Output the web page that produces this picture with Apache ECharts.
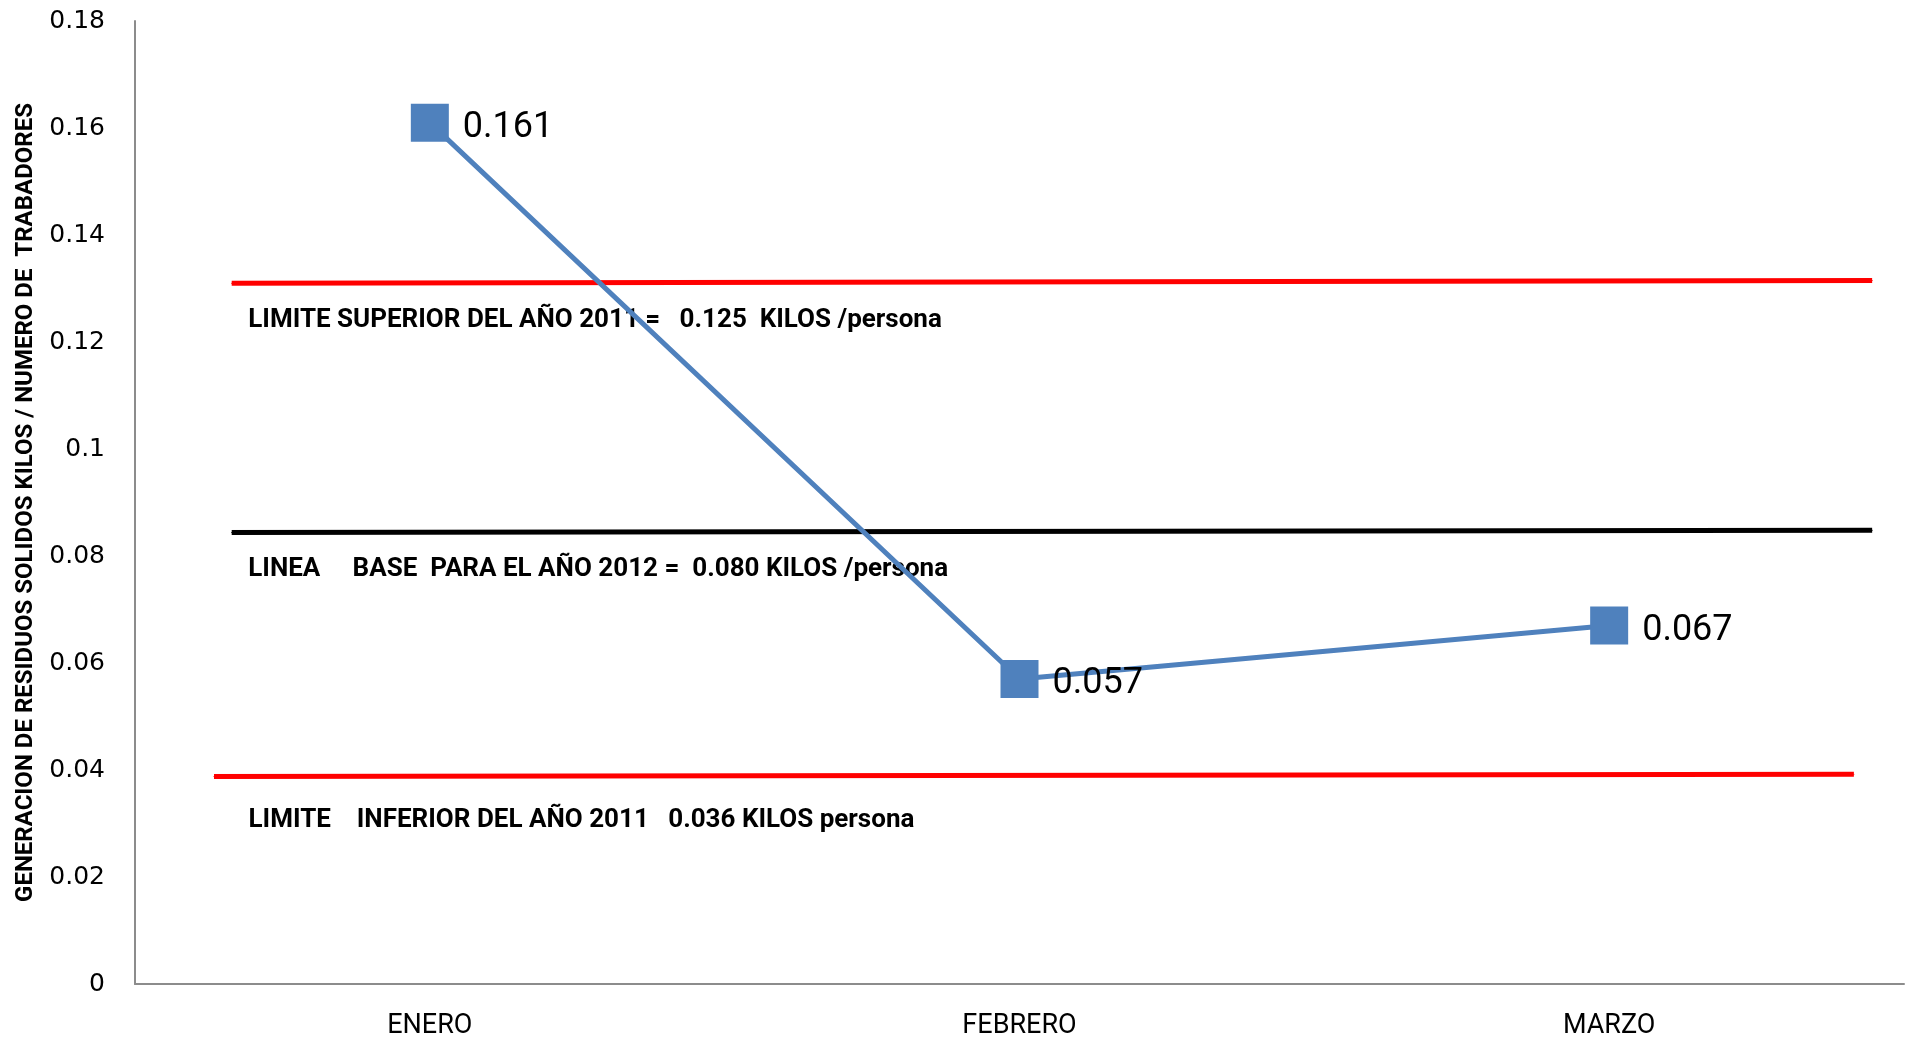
<!DOCTYPE html>
<html>
<head>
<meta charset="utf-8">
<style>
    html, body { margin: 0; padding: 0; background: #fff; }
    #chart { width: 1906px; height: 1040px; }
</style>
<script src="https://cdn.jsdelivr.net/npm/echarts@6/dist/echarts.min.js"></script>
</head>
<body>
<div id="chart"></div>
<script>
    // data
    const categories = ['ENERO', 'FEBRERO', 'MARZO'];
    const values = [0.161, 0.057, 0.067];
    const yMin = 0, yMax = 0.18, yStep = 0.02;

    // reference lines (drawn by hand in the original, so slightly off their stated values)
    const upperX = [-0.336, 2.446], upperY = [0.1310, 0.1315];
    const baseX = [-0.336, 2.446], baseY = [0.0844, 0.0848];
    const lowerX = [-0.366, 2.415], lowerY = [0.0388, 0.0392];
    const upperText = 'LIMITE SUPERIOR DEL AÑO 2011 =   0.125  KILOS /persona';
    const baseText = 'LINEA     BASE  PARA EL AÑO 2012 =  0.080 KILOS /persona';
    const lowerText = 'LIMITE    INFERIOR DEL AÑO 2011   0.036 KILOS persona';

    const narrow = '"Liberation Sans Narrow", "Arial Narrow", "Roboto", sans-serif';

    function refLine(xs, ys, color, text, offset) {
        return {
            type: 'line',
            xAxisIndex: 1,
            silent: true,
            animation: false,
            symbol: 'circle',
            symbolSize: 1,
            itemStyle: {color: color},
            lineStyle: {color: color, width: 5},
            data: [
                {
                    value: [xs[0], ys[0]],
                    label: {
                        show: true,
                        position: offset,
                        align: 'left',
                        verticalAlign: 'middle',
                        formatter: text,
                        fontFamily: narrow,
                        fontWeight: 'bold',
                        fontSize: 26,
                        color: '#000'
                    }
                },
                [xs[1], ys[1]]
            ]
        };
    }

    const chart = echarts.init(document.getElementById('chart'));
    const option = {
        backgroundColor: '#fff',
        animation: false,
        grid: {left: 135, right: 2, top: 21, bottom: 55},
        xAxis: [
            {
                type: 'category',
                data: categories,
                axisTick: {show: false},
                axisLine: {lineStyle: {color: '#8c8c8c', width: 2}},
                axisLabel: {
                    color: '#000',
                    fontFamily: narrow,
                    fontSize: 27,
                    margin: 29
                }
            },
            {type: 'value', min: -0.5, max: 2.5, show: false}
        ],
        yAxis: {
            type: 'value',
            min: yMin,
            max: yMax,
            interval: yStep,
            splitLine: {show: false},
            axisTick: {show: false},
            axisLine: {show: true, onZero: false, lineStyle: {color: '#8c8c8c', width: 2}},
            axisLabel: {
                color: '#000',
                fontFamily: '"DejaVu Sans", sans-serif',
                fontSize: 25,
                margin: 30
            },
            name: 'GENERACION DE RESIDUOS SOLIDOS KILOS / NUMERO DE  TRABADORES',
            nameLocation: 'middle',
            nameRotate: 90,
            nameGap: 97,
            nameTextStyle: {
                color: '#000',
                fontFamily: narrow,
                fontWeight: 'bold',
                fontSize: 24
            }
        },
        series: [
            refLine(upperX, upperY, '#ff0000', upperText, [17, 38]),
            refLine(baseX, baseY, '#000000', baseText, [17, 38]),
            refLine(lowerX, lowerY, '#ff0000', lowerText, [35, 45]),
            {
                type: 'line',
                data: values,
                symbol: 'rect',
                symbolSize: 38,
                itemStyle: {color: '#4f81bd'},
                lineStyle: {color: '#4f81bd', width: 5},
                label: {
                    show: true,
                    position: 'right',
                    distance: 14,
                    offset: [0, 5],
                    color: '#000',
                    fontFamily: narrow,
                    fontSize: 36
                },
                z: 5
            }
        ]
    };
    chart.setOption(option);
</script>
</body>
</html>
